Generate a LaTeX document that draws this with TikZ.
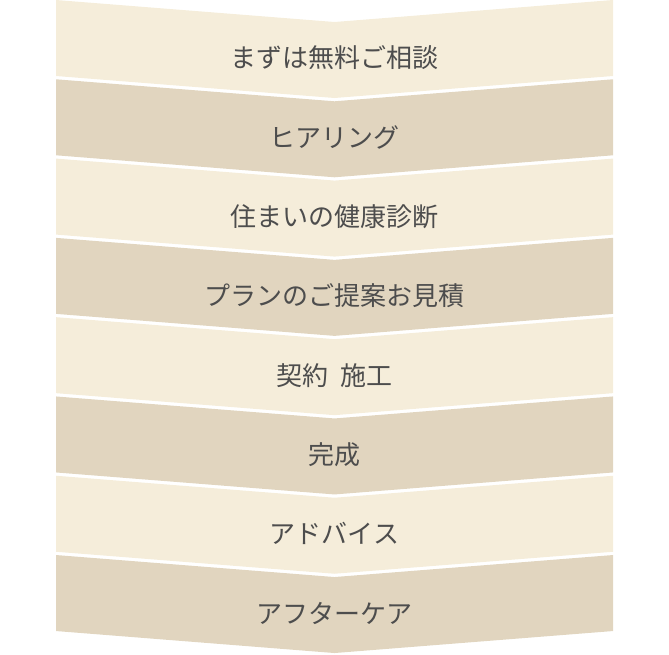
\documentclass[tikz,border=0pt]{standalone}
\usepackage{fontspec}
\newfontfamily\jpfont{Noto Sans CJK JP}
\usetikzlibrary{positioning}
\definecolor{bandlight}{HTML}{F5EDDA}
\definecolor{banddark}{HTML}{E1D5BF}
\definecolor{labelgray}{HTML}{4D4D4D}

\begin{document}
\begin{tikzpicture}[x=1pt,y=-1pt
        , band/.style={draw=none}
        , every node/.style={font=\jpfont\fontsize{26}{26}\selectfont, text=labelgray}
        ]
        \useasboundingbox (0,0) rectangle (669,654);
        \foreach \i/\txt/\col in {0/まずは無料ご相談/bandlight,
                1/ヒアリング/banddark,
                2/住まいの健康診断/bandlight,
                3/プランのご提案お見積/banddark,
                4/契約\hspace{0.45em}施工/bandlight,
                5/完成/banddark,
                6/アドバイス/bandlight,
                7/アフターケア/banddark}{
            \pgfmathsetmacro{\t}{79.29*\i}
            \fill[band,fill=\col] (56,\t) -- (334.5,\t+22) -- (613,\t)
                -- (613,\t+76) -- (334.5,\t+98) -- (56,\t+76) -- cycle;
            \node (lbl\i) at (334.5,\t+58) {\txt};
        }
    \end{tikzpicture}
\end{document}
